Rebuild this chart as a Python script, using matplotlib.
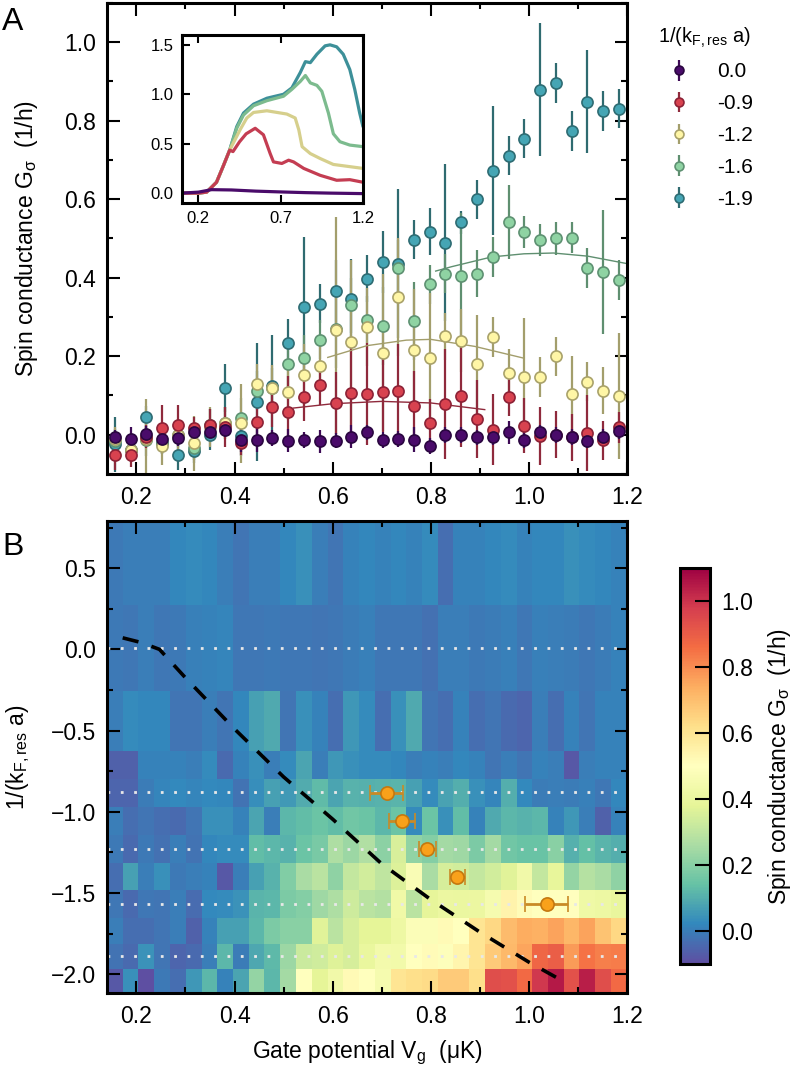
import numpy as np
import matplotlib.pyplot as plt
from matplotlib.ticker import MultipleLocator

plt.rcParams['font.family'] = ['Liberation Sans', 'DejaVu Sans']
plt.rcParams['mathtext.fontset'] = 'custom'
plt.rcParams['mathtext.rm'] = 'Liberation Sans'
plt.rcParams['mathtext.it'] = 'Liberation Sans:italic'
plt.rcParams['mathtext.default'] = 'regular'

# gate potential grid (uK)
vg = [0.156, 0.188, 0.220, 0.252, 0.285, 0.317, 0.349, 0.381, 0.413, 0.445, 0.477,
      0.509, 0.541, 0.574, 0.606, 0.638, 0.670, 0.702, 0.734, 0.766, 0.798, 0.830,
      0.862, 0.895, 0.927, 0.959, 0.991, 1.023, 1.055, 1.087, 1.119, 1.152, 1.184]

# spin conductance for the five interaction strengths
labels = ['0.0', '-0.9', '-1.2', '-1.6', '-1.9']
g_00 = [-0.007, -0.011, 0.002, -0.011, -0.009, 0.006, 0.008, 0.013, -0.013, -0.013, -0.009,
        -0.015, -0.013, -0.017, -0.015, -0.005, 0.006, -0.013, -0.011, -0.013, -0.028, 0.0,
        0.0, -0.007, -0.005, 0.006, -0.013, 0.006, 0.0, -0.005, -0.015, -0.005, 0.010]
e_00 = [0.02, 0.03, 0.02, 0.02, 0.02, 0.02, 0.02, 0.02, 0.03, 0.03, 0.02, 0.03, 0.02, 0.03,
        0.02, 0.03, 0.02, 0.02, 0.02, 0.032, 0.02, 0.02, 0.02, 0.02, 0.02, 0.03, 0.02, 0.02,
        0.02, 0.02, 0.02, 0.02, 0.02]
g_09 = [-0.051, -0.051, -0.005, 0.016, 0.025, 0.016, 0.025, 0.02, -0.022, 0.032, 0.070,
        0.059, 0.095, 0.127, 0.081, 0.107, 0.104, 0.108, 0.111, 0.072, 0.031, 0.078, 0.098,
        0.040, 0.013, 0.097, 0.023, -0.003, 0.0, -0.006, 0.004, -0.014, 0.019]
e_09 = [0.04, 0.03, 0.03, 0.06, 0.05, 0.03, 0.04, 0.05, 0.03, 0.04, 0.05, 0.09, 0.06, 0.05,
        0.08, 0.12, 0.13, 0.1, 0.12, 0.09, 0.06, 0.14, 0.13, 0.1, 0.09, 0.05, 0.07, 0.073,
        0.06, 0.06, 0.097, 0.05, 0.04]
g_12 = [-0.01, -0.04, -0.01, -0.028, 0.0, -0.022, 0.02, 0.03, 0.029, 0.13, 0.118, 0.108,
        0.151, 0.174, 0.266, 0.236, 0.274, 0.209, 0.351, 0.217, 0.195, 0.251, 0.240, 0.181,
        0.249, 0.158, 0.147, 0.147, 0.200, 0.104, 0.135, 0.112, 0.098]
e_12 = [0.03, 0.03, 0.1, 0.05, 0.04, 0.07, 0.05, 0.04, 0.1, 0.05, 0.06, 0.07, 0.08, 0.06,
        0.29, 0.21, 0.1, 0.2, 0.15, 0.155, 0.165, 0.06, 0.08, 0.125, 0.05, 0.06, 0.15, 0.05,
        0.05, 0.097, 0.05, 0.06, 0.16]
g_16 = [-0.015, -0.04, -0.013, -0.02, 0.0, -0.035, 0.025, 0.03, 0.043, 0.112, 0.12, 0.181,
        0.195, 0.242, 0.27, 0.33, 0.293, 0.277, 0.426, 0.29, 0.383, 0.41, 0.405, 0.41, 0.453,
        0.543, 0.517, 0.496, 0.5, 0.502, 0.425, 0.415, 0.394]
e_16 = [0.03, 0.03, 0.04, 0.03, 0.03, 0.03, 0.04, 0.04, 0.05, 0.05, 0.05, 0.06, 0.06, 0.05,
        0.1, 0.07, 0.06, 0.1, 0.07, 0.1, 0.05, 0.05, 0.16, 0.06, 0.05, 0.094, 0.04, 0.04,
        0.043, 0.04, 0.05, 0.158, 0.05]
g_19 = [-0.024, -0.04, 0.044, -0.02, -0.051, -0.041, 0.0, 0.119, -0.003, 0.083, 0.125, 0.234,
        0.325, 0.334, 0.365, 0.347, 0.398, 0.44, 0.436, 0.497, 0.517, 0.489, 0.541, 0.60,
        0.673, 0.711, 0.754, 0.879, 0.896, 0.774, 0.849, 0.825, 0.831]
e_19 = [0.07, 0.03, 0.03, 0.03, 0.04, 0.03, 0.04, 0.06, 0.05, 0.15, 0.13, 0.06, 0.18, 0.05,
        0.08, 0.10, 0.06, 0.08, 0.19, 0.05, 0.06, 0.2, 0.03, 0.05, 0.165, 0.05, 0.05, 0.17,
        0.05, 0.05, 0.13, 0.05, 0.05]

# fitted curves
fit_x_09 = [0.52, 0.60, 0.70, 0.80, 0.91]
fit_y_09 = [0.068, 0.079, 0.085, 0.081, 0.064]
fit_x_12 = [0.59, 0.67, 0.75, 0.80, 0.89, 0.99]
fit_y_12 = [0.197, 0.227, 0.241, 0.243, 0.225, 0.195]
fit_x_16 = [0.81, 0.842, 0.924, 0.99, 1.05, 1.12, 1.20]
fit_y_16 = [0.417, 0.428, 0.453, 0.461, 0.463, 0.455, 0.436]

# inset: theory curves
in_x_00 = [0.10, 0.20, 0.28, 0.40, 0.55, 0.70, 0.85, 1.00, 1.20]
in_y_00 = [0.0, 0.01, 0.035, 0.032, 0.02, 0.012, 0.005, 0.0, -0.005]
in_x_09 = [0.10, 0.20, 0.25, 0.31, 0.35, 0.39, 0.41, 0.45, 0.49, 0.545, 0.595, 0.636, 0.656,
           0.707, 0.748, 0.778, 0.84, 0.94, 1.04, 1.12, 1.20]
in_y_09 = [0.0, 0.0, 0.01, 0.11, 0.27, 0.435, 0.42, 0.52, 0.60, 0.656, 0.59, 0.40, 0.316,
           0.30, 0.333, 0.316, 0.25, 0.18, 0.13, 0.136, 0.11]
in_x_12 = [0.10, 0.20, 0.25, 0.31, 0.35, 0.39, 0.453, 0.494, 0.535, 0.616, 0.737, 0.788,
           0.81, 0.83, 0.88, 0.94, 1.02, 1.20]
in_y_12 = [0.0, 0.0, 0.01, 0.11, 0.27, 0.435, 0.64, 0.76, 0.816, 0.833, 0.80, 0.76, 0.64,
           0.47, 0.40, 0.35, 0.29, 0.25]
in_x_16 = [0.10, 0.20, 0.25, 0.31, 0.35, 0.39, 0.433, 0.474, 0.535, 0.616, 0.717, 0.768,
           0.819, 0.85, 0.88, 0.92, 0.95, 0.99, 1.02, 1.06, 1.12, 1.20]
in_y_16 = [0.0, 0.0, 0.01, 0.11, 0.27, 0.435, 0.656, 0.79, 0.884, 0.935, 0.98, 1.05, 1.13,
           1.19, 1.115, 1.09, 1.03, 0.81, 0.60, 0.52, 0.486, 0.47]
in_x_19 = [0.10, 0.20, 0.25, 0.31, 0.35, 0.39, 0.433, 0.474, 0.535, 0.616, 0.717, 0.768,
           0.819, 0.85, 0.88, 0.92, 0.97, 1.00, 1.04, 1.08, 1.12, 1.15, 1.18, 1.20]
in_y_19 = [0.0, 0.0, 0.01, 0.11, 0.27, 0.435, 0.673, 0.81, 0.90, 0.96, 1.0, 1.065, 1.22,
           1.33, 1.32, 1.405, 1.49, 1.50, 1.48, 1.405, 1.25, 1.05, 0.81, 0.673]

# map: remaining interaction strength rows
row_p053 = [-0.01, 0.0, 0.0, 0.0, 0.02, 0.03, 0.02, 0.0, -0.02, 0.0, 0.0, 0.02, 0.04, 0.0,
            -0.02, 0.01, 0.02, 0.01, 0.02, 0.01, 0.03, -0.03, 0.01, 0.01, 0.02, 0.03, 0.01,
            0.02, 0.02, 0.04, 0.03, 0.02, 0.01]
row_m044 = [0.0, 0.03, 0.02, 0.02, -0.02, -0.02, 0.0, -0.02, 0.02, 0.07, 0.09, -0.02, 0.04,
            0.01, -0.03, 0.05, 0.03, -0.03, 0.04, 0.09, -0.02, -0.03, 0.01, -0.03, -0.02,
            -0.04, -0.05, 0.0, -0.03, 0.01, -0.02, 0.01, 0.01]
row_m071 = [-0.06, -0.06, 0.01, 0.01, 0.01, 0.0, 0.03, -0.04, 0.01, 0.04, 0.0, 0.03, 0.08,
            0.0, 0.05, 0.04, 0.03, 0.03, 0.02, 0.0, 0.01, 0.0, 0.02, 0.01, -0.02, 0.0, -0.02,
            0.01, 0.0, -0.08, 0.0, 0.01, 0.01]
row_m106 = [0.0, -0.03, -0.02, -0.03, -0.04, -0.02, 0.04, 0.04, 0.01, 0.08, 0.0, 0.12, 0.13,
            0.15, 0.13, 0.16, 0.15, 0.12, 0.15, 0.03, 0.15, 0.04, 0.13, 0.01, 0.09, 0.12,
            0.11, 0.12, 0.01, 0.05, 0.0, -0.06, 0.01]
row_m140 = [-0.03, 0.07, 0.0, 0.04, -0.01, 0.0, 0.01, -0.08, 0.0, 0.07, 0.11, 0.19, 0.26,
            0.29, 0.21, 0.31, 0.34, 0.3, 0.36, 0.47, 0.26, 0.35, 0.34, 0.31, 0.34, 0.37, 0.43,
            0.31, 0.39, 0.22, 0.28, 0.26, 0.21]
row_m173 = [0.0, -0.03, -0.03, -0.02, 0.0, -0.06, 0.01, 0.07, 0.07, 0.12, 0.18, 0.2, 0.2,
            0.37, 0.29, 0.35, 0.38, 0.38, 0.42, 0.48, 0.48, 0.52, 0.5, 0.6, 0.64, 0.71, 0.74,
            0.73, 0.76, 0.72, 0.76, 0.69, 0.64]
row_m204 = [-0.08, 0.04, -0.1, -0.01, -0.03, 0.05, 0.12, 0.01, 0.08, 0.22, 0.12, 0.25, 0.5,
            0.38, 0.43, 0.52, 0.5, 0.45, 0.6, 0.62, 0.63, 0.67, 0.67, 0.62, 0.94, 0.93, 0.87,
            0.99, 1.05, 0.93, 1.04, 0.94, 0.87]
row_edges = [0.79, 0.276, -0.257, -0.627, -0.799, -0.970, -1.140, -1.312, -1.483, -1.653,
             -1.811, -1.969, -2.115]
series_rows = [0.01, -0.88, -1.23, -1.57, -1.89]

# crossover boundary and peak positions
bound_x = [0.172, 0.21, 0.247, 0.30, 0.40, 0.50, 0.60, 0.70, 0.80, 0.90, 1.00, 1.07]
bound_y = [0.071, 0.042, 0.0, -0.175, -0.49, -0.785, -1.045, -1.32, -1.54, -1.74, -1.925, -2.043]
peak_vg = [0.71, 0.741, 0.793, 0.854, 1.036]
peak_kfa = [-0.885, -1.056, -1.226, -1.40, -1.569]
peak_err = [0.034, 0.026, 0.017, 0.015, 0.044]

face = ['#4a0b6a', '#d8424f', '#fff6a6', '#8fd3a3', '#45a5b4']
edge = ['#2a0640', '#8c2236', '#a9a26a', '#5e9172', '#2e6c73']
ebar = ['#3d0a55', '#8f2a3c', '#a39e6c', '#5f8f70', '#2f6b70']
inset_col = ['#4a0b6a', '#c43d52', '#d6cf8c', '#7cbb8e', '#3d9099']

g_all = [g_00, g_09, g_12, g_16, g_19]
e_all = [e_00, e_09, e_12, e_16, e_19]

fs = 16.5
fig = plt.figure(figsize=(7.96, 10.69), dpi=100)

#=========================================================================================
# panel A
axA = fig.add_axes([0.1344, 0.5566, 0.6533, 0.4406])
handles = [None] * 5
for i in [4, 3, 2, 1, 0]:
    h = axA.errorbar(vg, g_all[i], yerr=e_all[i], fmt='o', ms=8, mfc=face[i], mec=edge[i],
                     mew=1.2, ecolor=ebar[i], elinewidth=1.6, capsize=0, label=labels[i])
    handles[i] = h
axA.plot(fit_x_09, fit_y_09, color=ebar[1], lw=1.0)
axA.plot(fit_x_12, fit_y_12, color=ebar[2], lw=1.0)
axA.plot(fit_x_16, fit_y_16, color=ebar[3], lw=1.0)
axA.set_xlim(0.14, 1.2)
axA.set_ylim(-0.1, 1.1)
axA.xaxis.set_major_locator(MultipleLocator(0.2))
axA.xaxis.set_minor_locator(MultipleLocator(0.1))
axA.yaxis.set_major_locator(MultipleLocator(0.2))
axA.yaxis.set_minor_locator(MultipleLocator(0.1))
axA.set_ylabel('Spin conductance G$_σ$  (1/h)', fontsize=fs)
axA.yaxis.set_label_coords(-0.128, 0.5)

leg = fig.legend(handles, labels, loc='upper left', bbox_to_anchor=(648/796, 1-17/1069),
                 borderaxespad=0, frameon=False, fontsize=15, title='1/(k$_{F,res}$ a)',
                 title_fontsize=14.5, handlelength=2.2, handletextpad=0.7, labelspacing=0.62,
                 markerscale=0.8)

# inset
axI = fig.add_axes([0.2286, 0.8101, 0.2274, 0.1572])
for i in [4, 3, 2, 1, 0]:
    xs = [in_x_00, in_x_09, in_x_12, in_x_16, in_x_19][i]
    ys = [in_y_00, in_y_09, in_y_12, in_y_16, in_y_19][i]
    axI.plot(xs, ys, color=inset_col[i], lw=2.3, solid_capstyle='round')
axI.set_xlim(0.1, 1.2)
axI.set_ylim(-0.1, 1.6)
axI.set_xticks([0.2, 0.7, 1.2])
axI.set_yticks([0.0, 0.5, 1.0, 1.5])
axI.tick_params(direction='in', top=True, labelsize=12, length=6, width=1.5, pad=6)

#=========================================================================================
# panel B
axB = fig.add_axes([0.1344, 0.0711, 0.6533, 0.4415])
v = np.array(vg)
x_edges = np.concatenate([[0.14], (v[1:] + v[:-1]) / 2, [1.2]])
grid = np.array([row_p053, g_00, row_m044, row_m071, g_09, row_m106, g_12, row_m140,
                 g_16, row_m173, g_19, row_m204])
mesh = axB.pcolormesh(x_edges, row_edges, grid, cmap='Spectral_r', vmin=-0.1, vmax=1.1,
                      shading='flat')
for y in series_rows:
    axB.axhline(y, color='#e8e8e8', lw=2.0, ls=(0, (1, 3.8)))
axB.plot(bound_x, bound_y, color='k', lw=2.6, dashes=(4.5, 3.8))
axB.errorbar(peak_vg, peak_kfa, xerr=peak_err, fmt='o', ms=9.5, mfc='#f9a11b', mec='#c4780f',
             mew=1.2, ecolor='#c98a26', elinewidth=2, capsize=6, capthick=2, zorder=5)
axB.set_xlim(0.14, 1.2)
axB.set_ylim(-2.115, 0.79)
axB.xaxis.set_major_locator(MultipleLocator(0.2))
axB.xaxis.set_minor_locator(MultipleLocator(0.1))
axB.yaxis.set_major_locator(MultipleLocator(0.5))
axB.yaxis.set_minor_locator(MultipleLocator(0.25))
axB.set_xlabel('Gate potential V$_g$  (μK)', fontsize=fs, labelpad=7)
axB.set_ylabel('1/(k$_{F,res}$ a)', fontsize=fs)
axB.yaxis.set_label_coords(-0.144, 0.5)

for ax in [axA, axB]:
    ax.tick_params(which='both', direction='in', top=True, right=True, labelsize=fs, width=1.5)
    ax.tick_params(which='major', length=9)
    ax.tick_params(which='minor', length=4.5)
    ax.tick_params(axis='y', pad=8)
    ax.tick_params(axis='x', pad=9)
for ax in [axA, axB, axI]:
    for s in ax.spines.values():
        s.set_linewidth(2.2)

cax = fig.add_axes([0.8543, 0.0982, 0.0377, 0.3704])
cb = fig.colorbar(mesh, cax=cax)
cb.set_ticks([0.0, 0.2, 0.4, 0.6, 0.8, 1.0])
cb.ax.tick_params(direction='in', length=11, width=1.5, labelsize=fs, pad=8)
cb.outline.set_linewidth(2.2)
cb.set_label('Spin conductance G$_σ$  (1/h)', fontsize=fs, labelpad=9)

fig.text(0.003, 0.9794, 'A', fontsize=23, va='center', ha='left')
fig.text(0.003, 0.4883, 'B', fontsize=23, va='center', ha='left')

fig.savefig('out.png', dpi=100)
